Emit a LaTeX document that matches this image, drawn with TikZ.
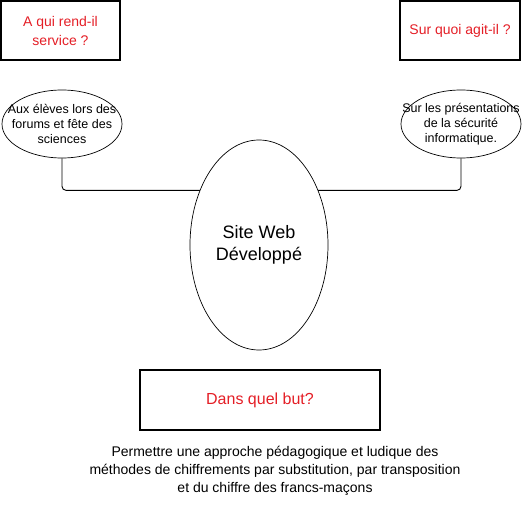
\documentclass[tikz,border=0pt]{standalone}
\usepackage{fontspec}
\setmainfont{Liberation Sans}
\usetikzlibrary{shapes.geometric}
\definecolor{qred}{RGB}{228,30,38}
\begin{document}
\begin{tikzpicture}[x=1pt,y=-1pt,
  qbox/.style={draw,line width=1.1pt,rectangle,inner sep=0pt,align=center,text=qred,
    font=\fontsize{14}{19}\selectfont},
  aell/.style={draw,line width=0.7pt,ellipse,inner sep=0pt,
    minimum width=120pt,minimum height=68pt},
  etext/.style={align=center,inner sep=0pt,font=\fontsize{12.5}{15}\selectfont},
  link/.style={draw,line width=0.9pt,rounded corners=4pt}]
\useasboundingbox (0,0) rectangle (523,506);
\node[qbox,minimum width=119pt,minimum height=59pt] (qa) at (60.5,30.5) {A qui rend-il\\service ?};
\node[qbox,minimum width=120pt,minimum height=59pt] (qb) at (460,30.5) {Sur quoi agit-il ?};
\node[aell] (ea) at (62,124) {};
\node[etext] (ta) at (ea.center) {Aux élèves lors des\\forums et fête des\\sciences};
\node[aell] (eb) at (461,124) {};
\node[etext] (tb) at (eb.center) {Sur les présentations\\de la sécurité\\informatique.};
\draw[link] (ea.south) -- ++(0,32) -| (eb.south);
\node[draw,line width=0.7pt,ellipse,fill=white,inner sep=0pt,minimum width=138pt,minimum height=210pt,
  align=center,font=\fontsize{18}{22}\selectfont] (site) at (259,245) {Site Web\\Développé};
\node[qbox,minimum width=240pt,minimum height=60pt,font=\fontsize{16}{19}\selectfont] (but) at (260,400) {Dans quel but?};
\node[align=center,font=\fontsize{14}{18}\selectfont] (txt) at (275,471)
  {Permettre une approche pédagogique et ludique des\\méthodes de chiffrements par substitution, par transposition\\et du chiffre des francs-maçons};
\end{tikzpicture}
\end{document}
